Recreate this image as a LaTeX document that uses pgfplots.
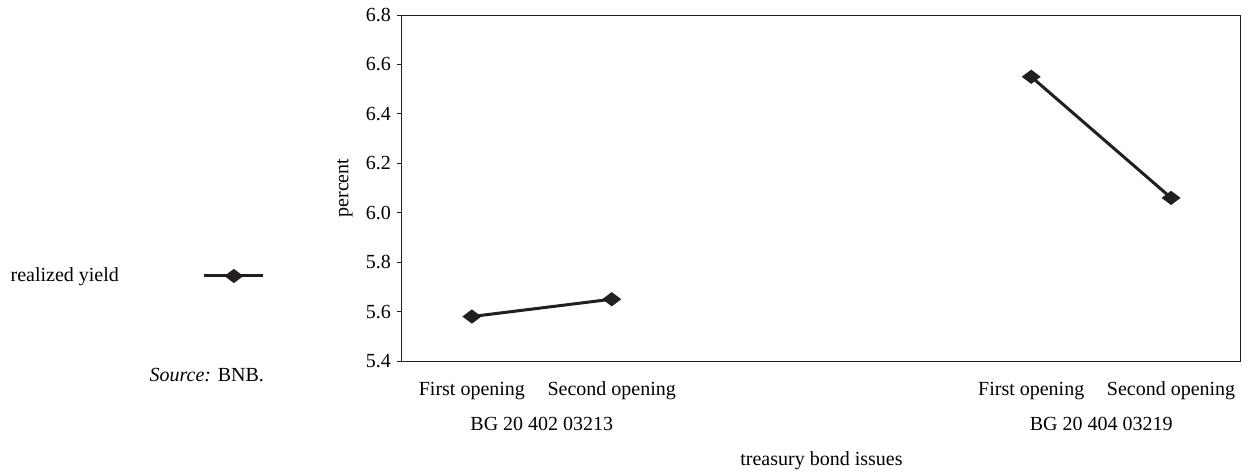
\documentclass[border=0pt]{standalone}
\usepackage{fontspec}
\setmainfont{Liberation Serif}
\usepackage{pgfplots}
\pgfplotsset{compat=1.18}
\definecolor{ink}{HTML}{231F20}
\begin{document}
\fontsize{10}{12}\selectfont
\begin{tikzpicture}
\useasboundingbox (0,0) rectangle (629.5pt,236pt);
\begin{axis}[
  at={(201pt,55.5pt)}, anchor=south west,
  scale only axis, width=419.5pt, height=173pt,
  xmin=-0.5, xmax=5.5, ymin=5.4, ymax=6.8,
  xtick={0,1,4,5},
  xticklabels={First opening, Second opening, First opening, Second opening},
  xtick style={draw=none},
  xticklabel style={yshift=-4.5pt},
  ytick={5.4,5.6,...,6.8},
  ytick pos=left, tick align=outside, major tick length=2.5pt,
  yticklabel style={/pgf/number format/fixed, /pgf/number format/fixed zerofill, /pgf/number format/precision=1, xshift=0.5pt},
  /pgf/number format/assume math mode=true,
  axis line style={ink, line width=0.5pt},
  every tick/.style={ink, line width=0.5pt},
  clip=false,
  unbounded coords=jump,
  xlabel={treasury bond issues},
  ylabel={percent},
  every axis x label/.style={at={(axis description cs:0.5,0)}, anchor=center, yshift=-50pt},
  every axis y label/.style={at={(axis description cs:0,0.5)}, anchor=center, rotate=90, yshift=28.5pt},
  legend plot pos=right,
  legend style={draw=none, fill=none, at={(-0.467,0.2457)}, anchor=west, inner sep=0pt, column sep=42pt, nodes={inner sep=0pt}},
  legend image code/.code={\draw[mark repeat=2,mark phase=2,#1] plot coordinates {(0pt,0pt)(14.75pt,0pt)(29.5pt,0pt)};},
]
\addplot[ink, line width=1.5pt, mark=diamond*, mark size=3.5pt, mark options={rotate=90, fill=ink, solid}]
  coordinates {(0,5.58) (1,5.65) (2,nan) (4,6.55) (5,6.06)};
\addlegendentry{realized yield}
\node[anchor=center, yshift=-31.5pt] at (axis cs:0.5,5.4) {BG 20 402 03213};
\node[anchor=center, yshift=-31.5pt] at (axis cs:4.5,5.4) {BG 20 404 03219};
\end{axis}
\node[anchor=east] at (135.5pt,48.5pt) {\textit{Source:} BNB.};
\end{tikzpicture}
\end{document}
